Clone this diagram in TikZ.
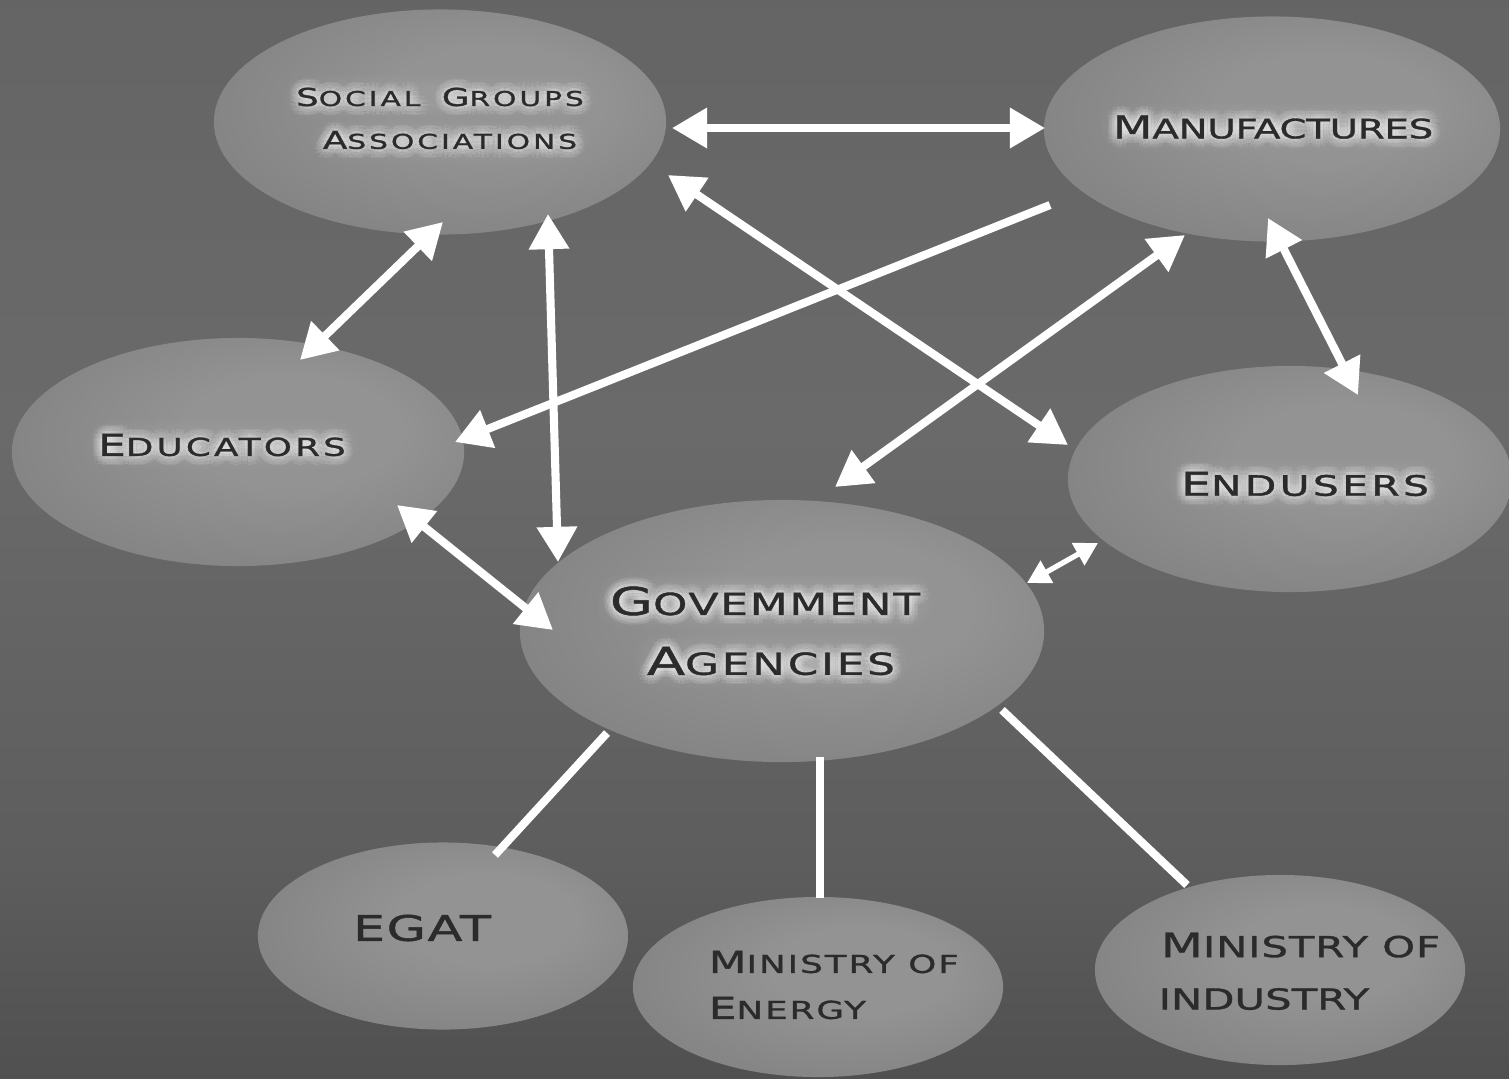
\documentclass[tikz,border=0pt]{standalone}
\usepackage{fontspec}
\usetikzlibrary{shapes.geometric,arrows.meta}
\newfontfamily\extsans[FakeStretch=1.45,FakeBold=1.2]{DejaVu Sans}
\newcommand\capsz[2]{{\fontsize{#1pt}{#1pt}\selectfont #2}}
\newcommand\spaced[1]{\addfontfeature{LetterSpace=#1}}

\definecolor{bgA}{HTML}{353535}
\definecolor{bgB}{HTML}{404040}
\definecolor{bgC}{HTML}{505050}
\definecolor{bgD}{HTML}{5D5D5D}
\definecolor{bgE}{HTML}{6A6A6A}
\definecolor{bgF}{HTML}{636363}
\definecolor{bgG}{HTML}{575757}
\definecolor{orbA}{HTML}{939393}
\definecolor{orbB}{HTML}{7D7D7D}
\definecolor{ink}{HTML}{2B2B2B}

\pgfdeclareverticalshading{backdrop}{100bp}{color(0bp)=(bgA); color(10bp)=(bgB);
  color(25bp)=(bgC); color(35bp)=(bgD); color(55bp)=(bgE); color(80bp)=(bgF);
  color(100bp)=(bgG)}
\pgfdeclareradialshading{orb}{\pgfpoint{8bp}{6bp}}{color(0bp)=(orbA);
  color(12bp)=(orbA); color(38bp)=(orbB); color(50bp)=(orbB)}

\pgfdeclarelayer{base}
\pgfdeclarelayer{glow}
\pgfsetlayers{base,glow,main}

\tikzset{
  orbnode/.style={ellipse, inner sep=0pt, shade, shading=orb, draw=none},
  labeltext/.style={inner sep=0pt, text=ink, font=\extsans},
  glowcopy/.style={inner sep=0pt, text=white, text opacity=0.07, font=\extsans},
  halo/.style={fill=white, fill opacity=0.012, rounded corners=7pt},
  link/.style={draw=white, line width=2.3pt, line cap=butt},
  biglink/.style={link, >={Triangle[length=10pt,width=11pt]}},
  smalllink/.style={draw=white, line width=1.5pt, >={Triangle[length=6.5pt,width=7pt]}},
}

% text set over a soft light halo that follows the letters
\newcommand\glowlabel[4]{%
  \node[labeltext,anchor=#3] (#1) at (#2) {#4};
  \begin{pgfonlayer}{glow}
    \foreach \ang in {0,30,...,330}{%
      \node[glowcopy,anchor=#3] at ([shift={(\ang:3)}]#2) {#4};
      \node[glowcopy,anchor=#3] at ([shift={(\ang:6)}]#2) {#4};
      \node[glowcopy,anchor=#3] at ([shift={(\ang:9)}]#2) {#4};
    }
    \foreach \r in {0,2,...,12}{%
      \path[halo] ([shift={(-\r,\r)}]#1.south west) rectangle ([shift={(\r,-\r)}]#1.north east);
    }
  \end{pgfonlayer}
}

\begin{document}
\begin{tikzpicture}[x=0.01cm, y=-0.01cm]
\useasboundingbox (0,0) rectangle (1509,1078);

\begin{pgfonlayer}{base}
\shade[shading=backdrop] (0,0) rectangle (1509,1078);

% ellipses
\node[orbnode, minimum width=4.52cm, minimum height=2.25cm] (soc) at (440,122) {};
\node[orbnode, minimum width=4.56cm, minimum height=2.25cm] (man) at (1272,129) {};
\node[orbnode, minimum width=4.52cm, minimum height=2.28cm] (edu) at (238,452) {};
\node[orbnode, minimum width=4.44cm, minimum height=2.26cm] (end) at (1290,479) {};
\node[orbnode, minimum width=5.24cm, minimum height=2.62cm] (gov) at (782,631) {};
\node[orbnode, minimum width=3.70cm, minimum height=1.87cm] (egat) at (443,936) {};
\node[orbnode, minimum width=3.70cm, minimum height=1.80cm] (ene) at (818,987) {};
\node[orbnode, minimum width=3.70cm, minimum height=1.90cm] (ind) at (1280,970) {};

% connector end points
\coordinate (socE) at (672,128);   \coordinate (manW) at (1045,128);
\coordinate (manSW) at (1050,205); \coordinate (eduE) at (455,442);
\coordinate (socSE) at (668,175);  \coordinate (endNW) at (1068,445);
\coordinate (manS) at (1185,235);  \coordinate (govN) at (835,487);
\coordinate (manSE) at (1268,218); \coordinate (endN) at (1358,395);
\coordinate (socS) at (443,222);   \coordinate (eduNE) at (300,360);
\coordinate (socS2) at (548,214);  \coordinate (govNW) at (558,562);
\coordinate (eduSE) at (397,505);  \coordinate (govW) at (553,630);
\coordinate (govNE) at (1027,583); \coordinate (endSW) at (1098,543);
\coordinate (govSW) at (607,733);  \coordinate (egatN) at (495,855);
\coordinate (govS) at (820,757);   \coordinate (eneN) at (820,898);
\coordinate (govSE) at (1002,710); \coordinate (indN) at (1187,885);

% arrows
\draw[biglink,<->] (socE) -- (manW);
\draw[biglink,->] (manSW) -- (eduE);
\draw[biglink,<->] (socSE) -- (endNW);
\draw[biglink,<->] (manS) -- (govN);
\draw[biglink,<->] (manSE) -- (endN);
\draw[biglink,<->] (socS) -- (eduNE);
\draw[biglink,<->] (socS2) -- (govNW);
\draw[biglink,<->] (eduSE) -- (govW);
\draw[smalllink,<->] (govNE) -- (endSW);
\draw[link] (govSW) -- (egatN);
\draw[link] (govS) -- (eneN);
\draw[link] (govSE) -- (indN);
\end{pgfonlayer}

% labels
\glowlabel{socT1}{440,97}{center}{\spaced{15}\capsz{7}{S}\capsz{5.8}{OCIAL} \capsz{7}{G}\capsz{5.8}{ROUPS}}
\glowlabel{socT2}{450,140}{center}{\spaced{15}\capsz{7}{A}\capsz{5.8}{SSOCIATIONS}}
\glowlabel{manT}{1273,127}{center}{\spaced{-1}\capsz{9}{M}\capsz{7.6}{ANUFACTURES}}
\glowlabel{eduT}{222,445}{center}{\spaced{13}\capsz{8.6}{E}\capsz{7}{DUCATORS}}
\glowlabel{endT}{1305,484}{center}{\spaced{12}\capsz{9.3}{E}\capsz{8}{NDUSERS}}
\glowlabel{govT1}{765,601}{center}{\spaced{6}\capsz{10.9}{G}\capsz{8.6}{OVEMMENT}}
\glowlabel{govT2}{771,661}{center}{\spaced{9}\capsz{10.9}{A}\capsz{8.6}{GENCIES}}
\node[labeltext] (egatT) at (422,928) {\spaced{4}\capsz{10}{EGAT}};
\node[labeltext, anchor=west] (eneT1) at (708,962) {\spaced{8}\capsz{8.6}{M}\capsz{7}{INISTRY OF}};
\node[labeltext, anchor=west] (eneT2) at (708,1008) {\spaced{8}\capsz{8.6}{E}\capsz{7}{NERGY}};
\node[labeltext, anchor=west] (indT1) at (1160,945) {\spaced{3}\capsz{9.6}{M}\capsz{8.2}{INISTRY OF}};
\node[labeltext, anchor=west] (indT2) at (1158,999) {\spaced{0}\capsz{8.2}{INDUSTRY}};
\end{tikzpicture}
\end{document}
